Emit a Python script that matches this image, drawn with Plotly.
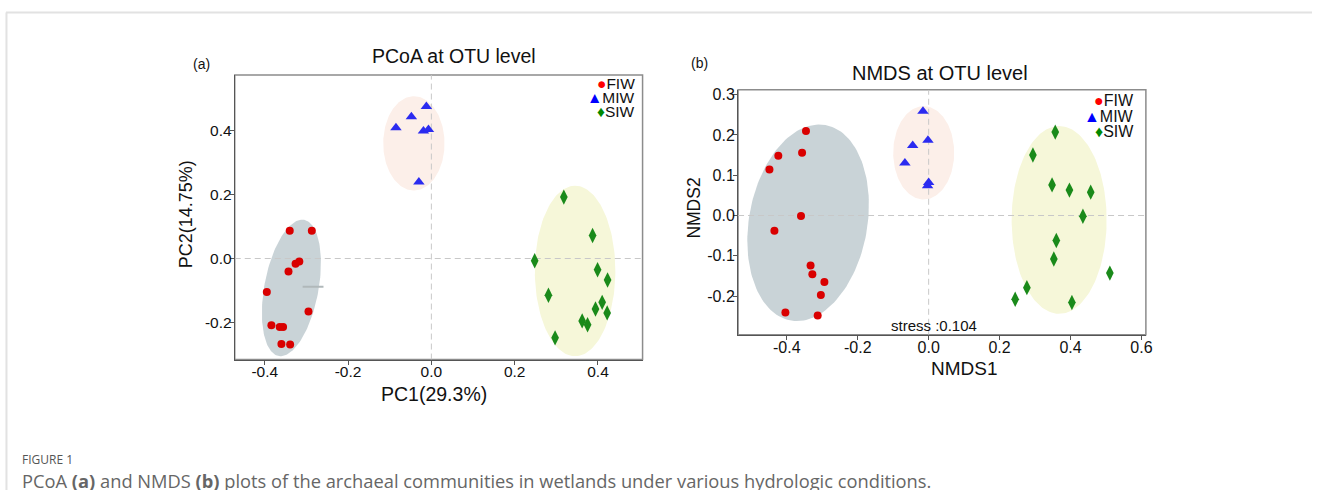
import numpy as np
import plotly.graph_objects as go

# ---------------- data ----------------
groups = ["FIW", "MIW", "SIW"]

# Panel (a) PCoA
pcoa_fiw_x = [-0.340, -0.287, -0.326, -0.317, -0.343, -0.395, -0.384, -0.364, -0.356, -0.295, -0.360, -0.339]
pcoa_fiw_y = [0.087, 0.087, -0.016, -0.009, -0.041, -0.105, -0.209, -0.214, -0.214, -0.166, -0.267, -0.269]
pcoa_miw_x = [-0.085, -0.048, -0.012, -0.019, -0.007, -0.030]
pcoa_miw_y = [0.409, 0.443, 0.475, 0.399, 0.403, 0.239]
pcoa_siw_x = [0.318, 0.387, 0.248, 0.399, 0.423, 0.281, 0.410, 0.394, 0.422, 0.362, 0.375, 0.297]
pcoa_siw_y = [0.192, 0.072, -0.007, -0.035, -0.067, -0.115, -0.137, -0.158, -0.170, -0.195, -0.207, -0.248]

# Panel (b) NMDS
nmds_fiw_x = [-0.346, -0.424, -0.357, -0.449, -0.360, -0.435, -0.333, -0.328, -0.294, -0.304, -0.404, -0.313]
nmds_fiw_y = [0.210, 0.148, 0.156, 0.114, -0.001, -0.038, -0.124, -0.146, -0.165, -0.197, -0.241, -0.248]
nmds_miw_x = [-0.016, -0.002, -0.045, -0.067, 0.000, -0.003]
nmds_miw_y = [0.259, 0.187, 0.174, 0.130, 0.082, 0.074]
nmds_siw_x = [0.357, 0.294, 0.348, 0.397, 0.457, 0.435, 0.360, 0.353, 0.511, 0.277, 0.244, 0.404]
nmds_siw_y = [0.207, 0.150, 0.076, 0.063, 0.058, -0.002, -0.062, -0.108, -0.143, -0.179, -0.208, -0.216]
stress_value = 0.104

# confidence ellipses: [cx, cy, ux, uy, vx, vy]
ell_pcoa_fiw = [-0.336, -0.092, 0.0306, 0.2128, 0.0639, -0.0155]
ell_pcoa_miw = [-0.042, 0.360, 0.0, 0.1475, 0.0736, 0.0]
ell_pcoa_siw = [0.345, -0.039, 0.0, 0.2666, 0.0967, 0.0]
ell_nmds_fiw = [-0.340, -0.018, 0.0489, 0.2425, 0.1643, -0.0256]
ell_nmds_miw = [-0.014, 0.1555, 0.0, 0.116, 0.086, 0.0]
ell_nmds_siw = [0.368, -0.011, 0.0, 0.233, 0.134, 0.0]

# small grey stroke inside the FIW ellipse of panel (a)
pcoa_artifact_x = [-0.309, -0.259]
pcoa_artifact_y = [-0.088, -0.088]

pcoa_xticks = [-0.4, -0.2, 0.0, 0.2, 0.4]
pcoa_yticks = [-0.2, 0.0, 0.2, 0.4]
nmds_xticks = [-0.4, -0.2, 0.0, 0.2, 0.4, 0.6]
nmds_yticks = [-0.2, -0.1, 0.0, 0.1, 0.2, 0.3]

# ---------------- styling ----------------
W, H = 1319, 490
FONT = "Liberation Sans, Arial, sans-serif"
pt_colors = {"FIW": "#d90000", "MIW": "#2b2bf0", "SIW": "#1a8a1a"}
leg_colors = {"FIW": "#ff0000", "MIW": "#0000ff", "SIW": "#008800"}
ell_colors = {"FIW": "#c9d3d7", "MIW": "#fcefe9", "SIW": "#f6f7d9"}
symbols = {"FIW": "circle", "MIW": "triangle-up", "SIW": "diamond-tall"}
sizes = {"FIW": 8, "MIW": 10, "SIW": 11}
glyphs = {"FIW": "●", "MIW": "▲", "SIW": "♦"}


def px_x(p):
    return p / W


def px_y(p):
    return 1 - p / H


def labels(vals):
    return [f"{v:.1f}" for v in vals]


dom_a_x = [px_x(236), px_x(646)]
dom_a_y = [px_y(358.5), px_y(71.5)]
dom_b_x = [px_x(742), px_x(1152)]
dom_b_y = [px_y(333.5), px_y(86.5)]
range_a_x = [-0.472, 0.507]
range_a_y = [-0.316, 0.574]
range_b_x = [-0.5375, 0.6126]
range_b_y = [-0.296, 0.312]

fig = go.Figure()


def ellipse(e):
    t = np.linspace(0, 2 * np.pi, 160)
    cx, cy, ux, uy, vx, vy = e
    return cx + ux * np.cos(t) + vx * np.sin(t), cy + uy * np.cos(t) + vy * np.sin(t)


def add_panel(xa, ya, ells, pts, xr, yr):
    for g, e in zip(groups, ells):
        ex, ey = ellipse(e)
        fig.add_trace(go.Scatter(x=ex, y=ey, mode="lines", fill="toself",
                                 fillcolor=ell_colors[g], line=dict(width=0),
                                 hoverinfo="skip", showlegend=False, xaxis=xa, yaxis=ya))
    # dashed zero lines
    fig.add_trace(go.Scatter(x=[0, 0], y=yr, mode="lines",
                             line=dict(color="#c8c8c8", width=1, dash="6px,4px"),
                             hoverinfo="skip", showlegend=False, xaxis=xa, yaxis=ya))
    fig.add_trace(go.Scatter(x=xr, y=[0, 0], mode="lines",
                             line=dict(color="#c8c8c8", width=1, dash="6px,4px"),
                             hoverinfo="skip", showlegend=False, xaxis=xa, yaxis=ya))
    for g, (x, y) in zip(groups, pts):
        fig.add_trace(go.Scatter(x=x, y=y, mode="markers", name=g, showlegend=False,
                                 marker=dict(symbol=symbols[g], size=sizes[g], color=pt_colors[g],
                                             line=dict(width=0)),
                                 xaxis=xa, yaxis=ya))


add_panel("x", "y", [ell_pcoa_fiw, ell_pcoa_miw, ell_pcoa_siw],
          [(pcoa_fiw_x, pcoa_fiw_y), (pcoa_miw_x, pcoa_miw_y), (pcoa_siw_x, pcoa_siw_y)],
          range_a_x, range_a_y)
fig.add_trace(go.Scatter(x=pcoa_artifact_x, y=pcoa_artifact_y, mode="lines",
                         line=dict(color="#b0b8ba", width=2), hoverinfo="skip",
                         showlegend=False, xaxis="x", yaxis="y"))
add_panel("x2", "y2", [ell_nmds_fiw, ell_nmds_miw, ell_nmds_siw],
          [(nmds_fiw_x, nmds_fiw_y), (nmds_miw_x, nmds_miw_y), (nmds_siw_x, nmds_siw_y)],
          range_b_x, range_b_y)

axis_common = dict(showgrid=False, zeroline=False, showline=True, linecolor="#555555",
                   linewidth=1, ticks="outside", ticklen=4, tickcolor="#555555",
                   color="#111111")

fig.update_layout(
    width=W, height=H, margin=dict(l=0, r=0, t=0, b=0),
    paper_bgcolor="white", plot_bgcolor="white",
    font=dict(family=FONT, color="#111111"),
    showlegend=False,
    xaxis=dict(domain=dom_a_x, range=range_a_x, tickvals=pcoa_xticks, ticktext=labels(pcoa_xticks),
               anchor="y", tickfont=dict(size=15.5), ticklabelstandoff=-6, **axis_common),
    yaxis=dict(domain=dom_a_y, range=range_a_y, tickvals=pcoa_yticks, ticktext=labels(pcoa_yticks),
               anchor="x", tickfont=dict(size=15.5), ticklabelstandoff=-5, **axis_common),
    xaxis2=dict(domain=dom_b_x, range=range_b_x, tickvals=nmds_xticks, ticktext=labels(nmds_xticks),
                anchor="y2", tickfont=dict(size=16), ticklabelstandoff=-6, **axis_common),
    yaxis2=dict(domain=dom_b_y, range=range_b_y, tickvals=nmds_yticks, ticktext=labels(nmds_yticks),
                anchor="x2", tickfont=dict(size=16), ticklabelstandoff=-5, **axis_common),
)

shapes = []
# grey frame (top/right visible)
for xr_, yr_ in (("x domain", "y domain"), ("x2 domain", "y2 domain")):
    shapes.append(dict(type="rect", xref=xr_, yref=yr_, x0=0, x1=1, y0=0, y1=1,
                       line=dict(color="#8c8c8c", width=1.5), layer="below"))
# page card border (top and left)
shapes.append(dict(type="line", xref="paper", yref="paper", x0=px_x(6), x1=1,
                   y0=px_y(8.5), y1=px_y(8.5), line=dict(color="#e2e2e2", width=2)))
shapes.append(dict(type="line", xref="paper", yref="paper", x0=px_x(6.5), x1=px_x(6.5),
                   y0=0, y1=px_y(8.5), line=dict(color="#e2e2e2", width=2)))
fig.update_layout(shapes=shapes)

ann = []


def text(x, y, s, size, color="#111111", xanchor="center", angle=0, family=FONT):
    ann.append(dict(xref="paper", yref="paper", x=px_x(x), y=px_y(y), text=s,
                    showarrow=False, xanchor=xanchor, yanchor="middle", textangle=angle,
                    font=dict(size=size, color=color, family=family)))


# panel labels and titles
text(203, 60, "(a)", 14)
text(703, 59, "(b)", 14)
text(456, 52, "PCoA at OTU level", 19.5)
text(945, 70, "NMDS at OTU level", 20)
# axis titles
text(436, 393, "PC1(29.3%)", 19.5)
text(187, 212, "PC2(14.75%)", 18, angle=-90)
text(970, 368, "NMDS1", 19)
text(698, 206, "NMDS2", 17.5, angle=-90)
# stress
ann.append(dict(xref="x2", yref="y2", x=0.014, y=-0.273, text=f"stress :{stress_value}",
                showarrow=False, xanchor="center", yanchor="middle",
                font=dict(size=15, family=FONT, color="#111111")))

# legends
for i, g in enumerate(groups):
    text(640, 80.5 + 14 * i, f"<span style='color:{leg_colors[g]}'>{glyphs[g]}</span>{g}",
         15.5, xanchor="right")
    text(1142, 97 + 16 * i, f"<span style='color:{leg_colors[g]}'>{glyphs[g]}</span>{g}",
         16, xanchor="right")

# caption
text(20, 459.5, "FIGURE 1", 12, color="#555555", xanchor="left", family="Open Sans, sans-serif")
text(20, 480, "PCoA <b>(a)</b> and NMDS <b>(b)</b> plots of the archaeal communities in wetlands "
     "under various hydrologic conditions.", 18.3, color="#666666", xanchor="left",
     family="Open Sans, sans-serif")

fig.update_layout(annotations=ann)
fig.write_html("out.html")
